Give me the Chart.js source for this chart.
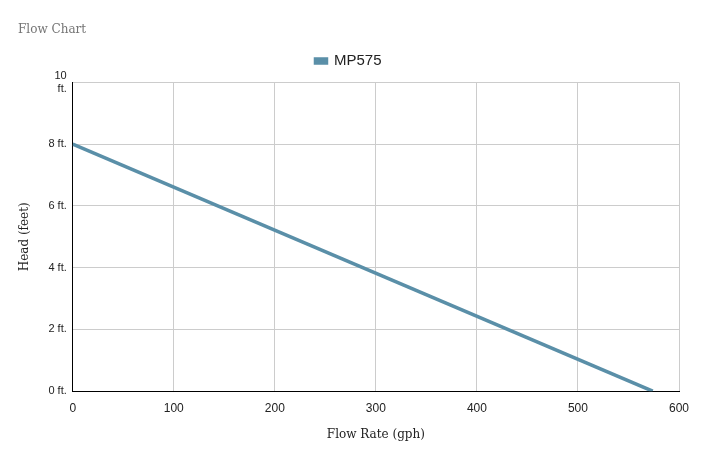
<!DOCTYPE html>
<html>
<head>
<meta charset="utf-8">
<script src="https://cdn.jsdelivr.net/npm/chart.js@4/dist/chart.umd.min.js"></script>
<style>
  html, body { margin: 0; padding: 0; background: #fff; }
  #wrap { width: 705px; height: 455px; }
</style>
</head>
<body>
<div id="wrap"><canvas id="flowChart"></canvas></div>
<script>
// MP575 pump curve: flow (gph) vs head (feet)
const flowRate = [0, 574];
const headFeet = [8, 0];
const yTicks = [0, 2, 4, 6, 8, 10];
const xTicks = [0, 100, 200, 300, 400, 500, 600];

const points = flowRate.map((f, i) => ({ x: f, y: headFeet[i] }));

// extra room under the legend
const legendGap = {
    id: 'legendGap',
    beforeInit(chart) {
        const fit = chart.legend.fit;
        chart.legend.fit = function () {
            fit.bind(chart.legend)();
            this.height += 4;
        };
    }
};

const ctx = document.getElementById("flowChart");
new Chart(ctx, {
    type: 'line',
    data: {
        datasets: [
            {
                label: "MP575",
                data: points,
                borderColor: "#5a8fa8",
                backgroundColor: "#5a8fa8",
                borderWidth: 3.5,
                pointRadius: 0,
                tension: 0
            }
        ]
    },
    options: {
        responsive: true,
        maintainAspectRatio: false,
        animation: false,
        layout: { padding: { left: 18, right: 26, top: 15, bottom: 13 } },
        plugins: {
            title: {
                display: true,
                text: "Flow Chart",
                align: 'start',
                color: "#757575",
                font: { family: "'DejaVu Serif', serif", size: 12, weight: 'normal' },
                padding: { top: 8, bottom: 2 }
            },
            legend: {
                display: true,
                labels: {
                    color: "#222",
                    font: { family: "'Liberation Sans', Arial, sans-serif", size: 15 },
                    boxWidth: 11,
                    boxHeight: 4,
                    padding: 14
                }
            },
            tooltip: { enabled: false }
        },
        scales: {
            x: {
                type: 'linear',
                min: 0,
                max: 600,
                afterBuildTicks: axis => { axis.ticks = xTicks.map(v => ({ value: v })); },
                ticks: {
                    color: "#222",
                    font: { family: "'Liberation Sans', Arial, sans-serif", size: 12 },
                    padding: 10
                },
                grid: { color: "#cccccc", drawTicks: false },
                border: { color: "#000", width: 1 },
                title: {
                    display: true,
                    text: "Flow Rate (gph)",
                    color: "#222",
                    font: { family: "'DejaVu Serif', serif", size: 12 },
                    padding: { top: 2, bottom: 0 }
                }
            },
            y: {
                min: 0,
                max: 10,
                afterBuildTicks: axis => { axis.ticks = yTicks.map(v => ({ value: v })); },
                ticks: {
                    color: "#222",
                    font: { family: "'Liberation Sans', Arial, sans-serif", size: 11 },
                    padding: 6,
                    callback: v => v === 10 ? ["10", "ft."] : v + " ft."
                },
                grid: { color: "#cccccc", drawTicks: false },
                border: { color: "#000", width: 1 },
                title: {
                    display: true,
                    text: "Head (feet)",
                    color: "#222",
                    font: { family: "'DejaVu Serif', serif", size: 12 },
                    padding: { top: 0, bottom: 10 }
                }
            }
        }
    },
    plugins: [legendGap]
});
</script>
</body>
</html>
